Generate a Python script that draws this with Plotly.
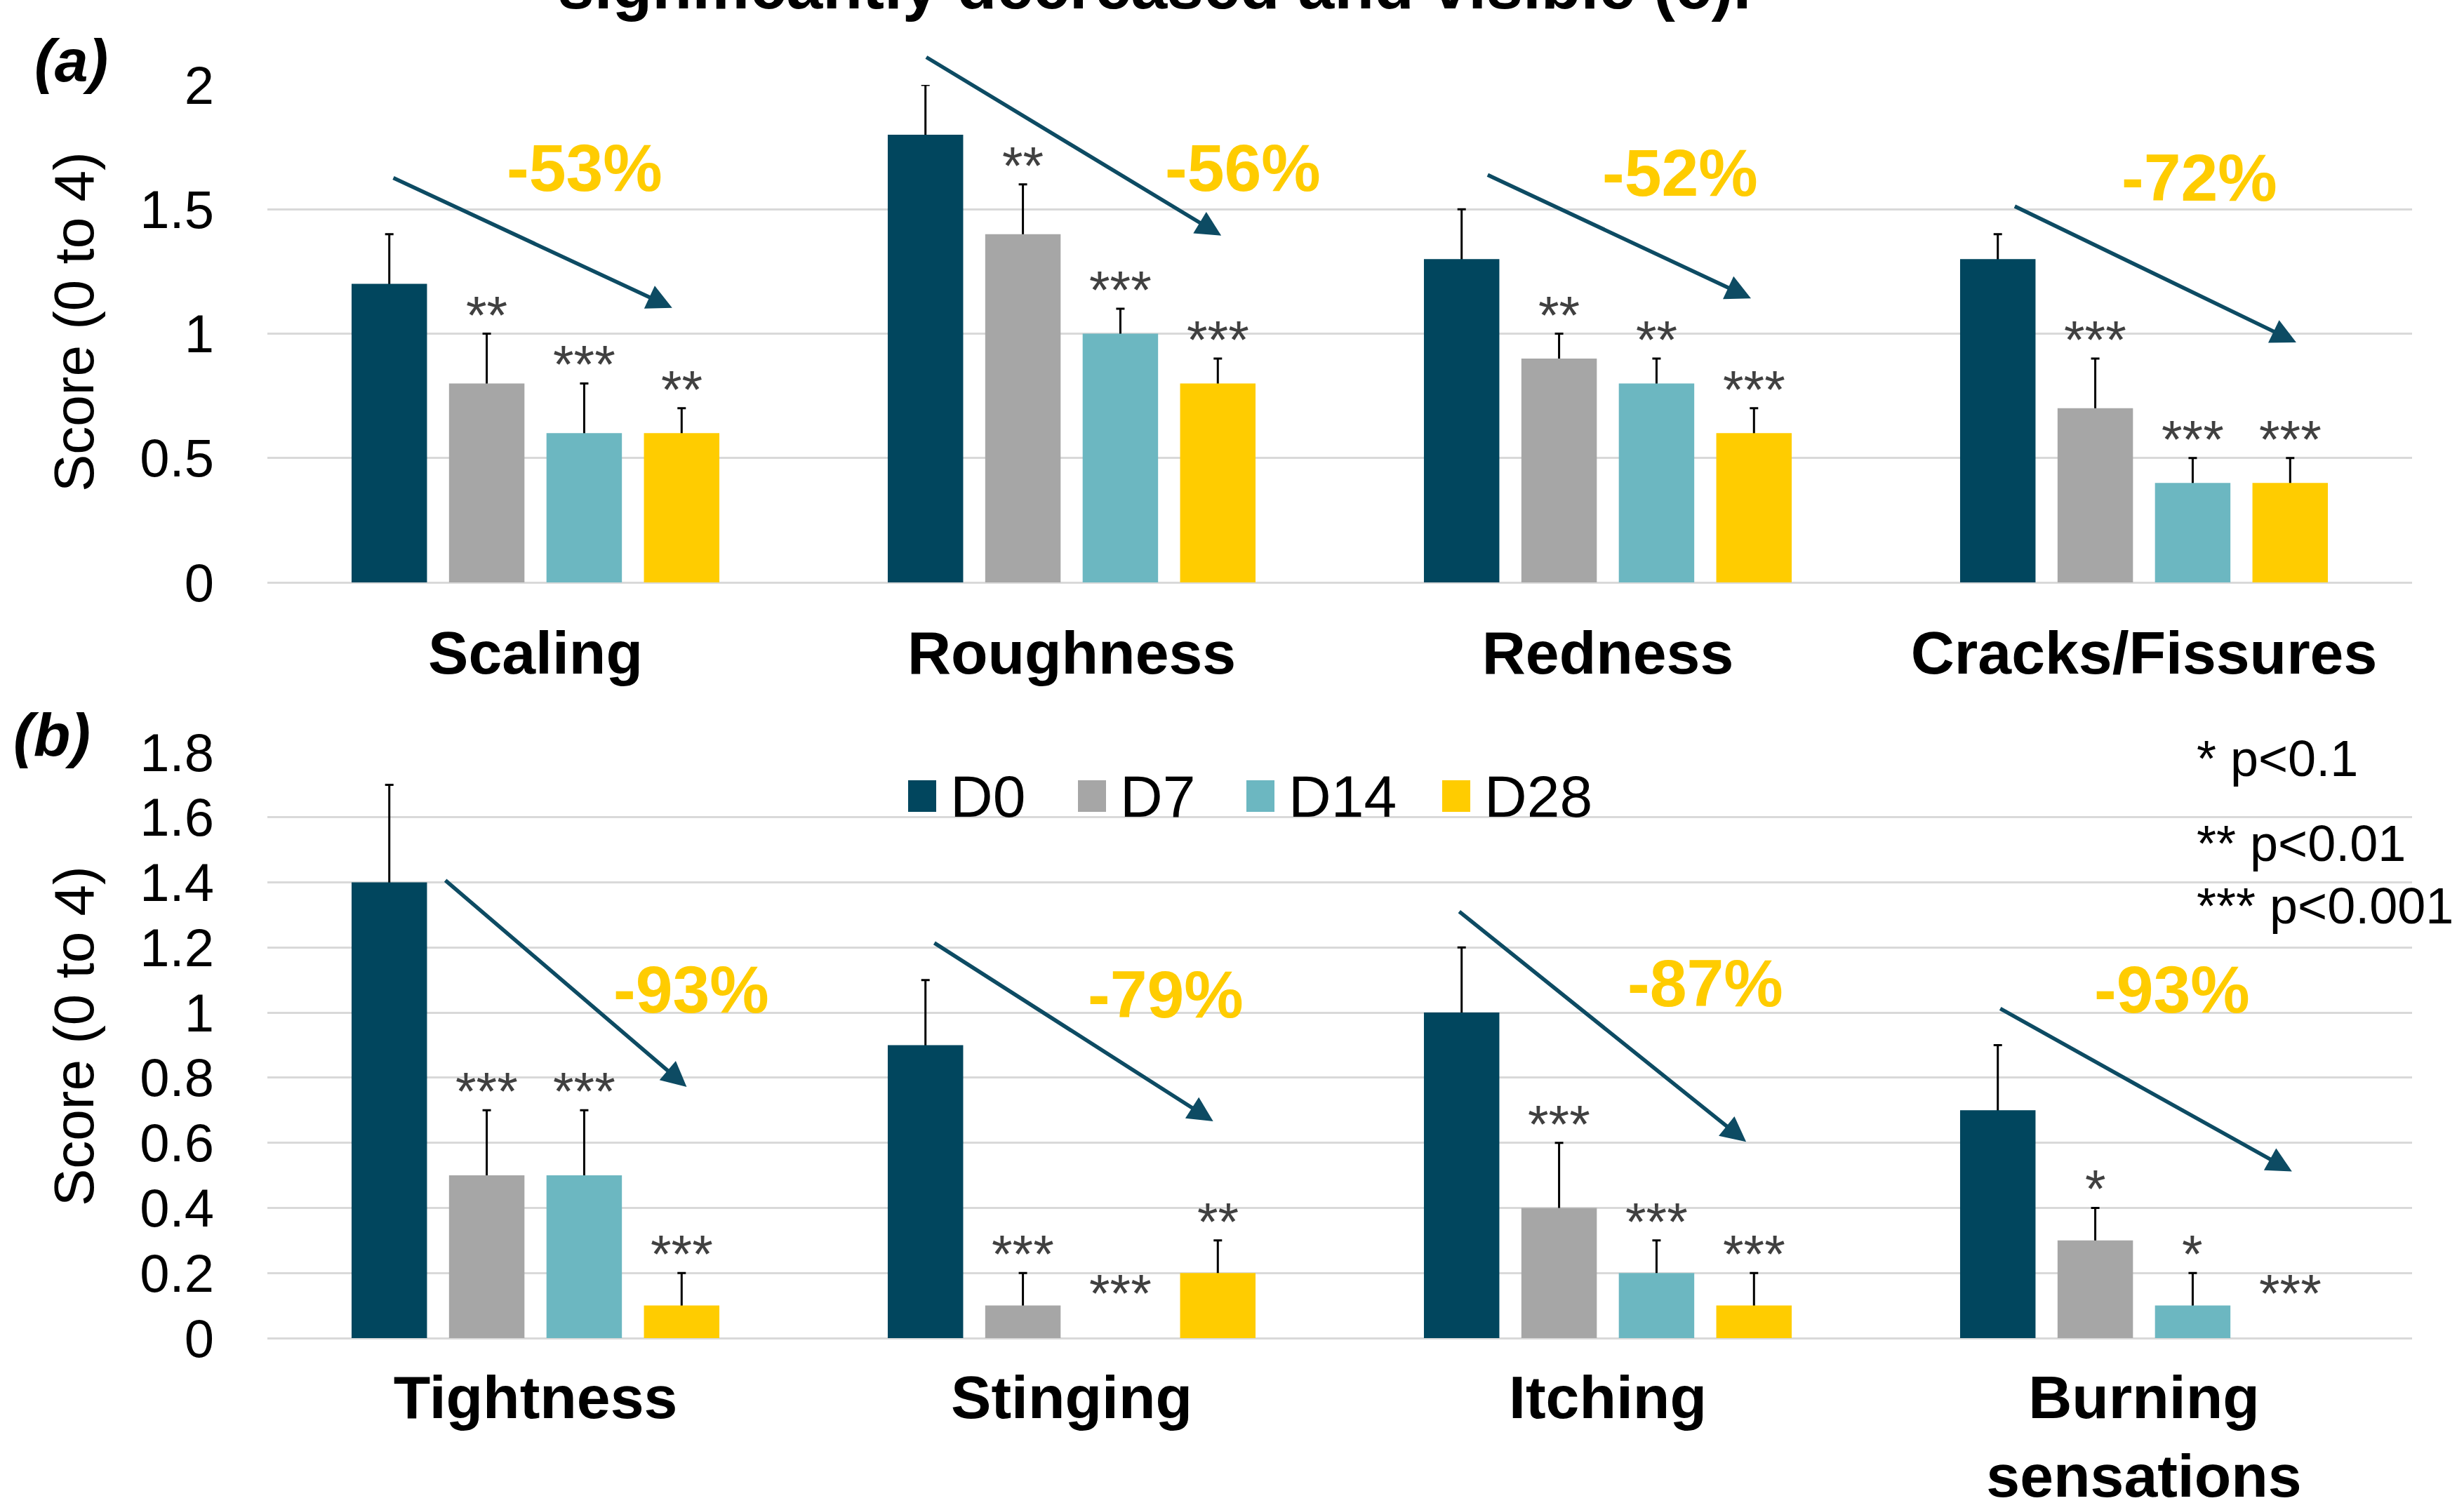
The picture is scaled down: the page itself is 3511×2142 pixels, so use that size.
import plotly.graph_objects as go

W, H = 3511, 2142
FONT = "Liberation Sans, Arial, sans-serif"

# ---------------- data ----------------
series = ["D0", "D7", "D14", "D28"]
colors = ["#01465E", "#A6A6A6", "#6CB7C1", "#FFCC00"]

cats_a = ["Scaling", "Roughness", "Redness", "Cracks/Fissures"]
a_D0 = [1.2, 1.8, 1.3, 1.3]
a_D7 = [0.8, 1.4, 0.9, 0.7]
a_D14 = [0.6, 1.0, 0.8, 0.4]
a_D28 = [0.6, 0.8, 0.6, 0.4]
a_err_D0 = [0.2, 0.2, 0.2, 0.1]
a_err_D7 = [0.2, 0.2, 0.1, 0.2]
a_err_D14 = [0.2, 0.1, 0.1, 0.1]
a_err_D28 = [0.1, 0.1, 0.1, 0.1]
a_sig_D7 = ["**", "**", "**", "***"]
a_sig_D14 = ["***", "***", "**", "***"]
a_sig_D28 = ["**", "***", "***", "***"]
a_pct = ["-53%", "-56%", "-52%", "-72%"]

cats_b = ["Tightness", "Stinging", "Itching", "Burning<br>sensations"]
b_D0 = [1.4, 0.9, 1.0, 0.7]
b_D7 = [0.5, 0.1, 0.4, 0.3]
b_D14 = [0.5, 0.0, 0.2, 0.1]
b_D28 = [0.1, 0.2, 0.1, 0.0]
b_err_D0 = [0.3, 0.2, 0.2, 0.2]
b_err_D7 = [0.2, 0.1, 0.2, 0.1]
b_err_D14 = [0.2, None, 0.1, 0.1]
b_err_D28 = [0.1, 0.1, 0.1, None]
b_sig_D7 = ["***", "***", "***", "*"]
b_sig_D14 = ["***", "***", "***", "*"]
b_sig_D28 = ["***", "**", "***", "***"]
b_pct = ["-93%", "-79%", "-87%", "-93%"]

p_notes = ["* p<0.1", "** p<0.01", "*** p<0.001"]

# ---------------- layout constants ----------------
BARGAP = 0.273
BARGROUPGAP = 0.226
SLOT = (1 - BARGAP) / 4.0

# arrows: (tail_x, tail_y, head_x, head_y) in category / data units
arrows_a = [(-0.267, 1.628, 0.255, 1.104), (0.727, 2.114, 1.279, 1.394),
            (1.774, 1.640, 2.267, 1.142), (2.757, 1.514, 3.284, 0.965)]
arrows_b = [(-0.170, 1.409, 0.282, 0.772), (0.742, 1.216, 1.264, 0.666),
            (1.721, 1.313, 2.258, 0.603), (2.730, 1.014, 3.276, 0.512)]
pct_pos_a = [(0.091, 1.666), (1.320, 1.666), (2.135, 1.647), (3.103, 1.628)]
pct_pos_b = [(0.290, 1.071), (1.176, 1.057), (2.182, 1.091), (3.053, 1.071)]

fig = go.Figure()

vals_a = [a_D0, a_D7, a_D14, a_D28]
errs_a = [a_err_D0, a_err_D7, a_err_D14, a_err_D28]
vals_b = [b_D0, b_D7, b_D14, b_D28]
errs_b = [b_err_D0, b_err_D7, b_err_D14, b_err_D28]

def add_series(cats, vals, errs, xa, ya):
    for i, name in enumerate(series):
        # error bars drawn on a transparent bar first, so the visible bar hides the lower half
        yv = [v if e is not None else None for v, e in zip(vals[i], errs[i])]
        fig.add_trace(go.Bar(
            x=cats, y=yv, name=name, offsetgroup=name,
            marker=dict(color="rgba(0,0,0,0)", line=dict(width=0)),
            error_y=dict(type="data", array=[e if e is not None else 0 for e in errs[i]],
                         symmetric=True, color="black", thickness=3, width=6),
            xaxis=xa, yaxis=ya, showlegend=False, hoverinfo="skip"))
        fig.add_trace(go.Bar(
            x=cats, y=vals[i], name=name, offsetgroup=name,
            marker=dict(color=colors[i], line=dict(width=0)),
            xaxis=xa, yaxis=ya, showlegend=False))

add_series(cats_a, vals_a, errs_a, "x", "y")
add_series(cats_b, vals_b, errs_b, "x2", "y2")

ann = []
shapes = []

def add_stars(vals, errs, sigs_list, xref, yref):
    for s, sigs in enumerate(sigs_list, start=1):
        for k, txt in enumerate(sigs):
            v = vals[s][k]
            e = errs[s][k]
            x = k + (s - 1.5) * SLOT
            if v > 0:
                top = v + (e or 0)
                shift = -17
            else:
                top = 0
                shift = 20
            ann.append(dict(x=x, y=top, xref=xref, yref=yref, text=txt, showarrow=False,
                            xanchor="center", yanchor="bottom", yshift=shift,
                            font=dict(family=FONT, size=76, color="#404040")))

add_stars(vals_a, errs_a, [a_sig_D7, a_sig_D14, a_sig_D28], "x", "y")
add_stars(vals_b, errs_b, [b_sig_D7, b_sig_D14, b_sig_D28], "x2", "y2")

ARROW_COLOR = "#0D4B63"
for arrows, xref, yref in [(arrows_a, "x", "y"), (arrows_b, "x2", "y2")]:
    for (tx, ty, hx, hy) in arrows:
        ann.append(dict(x=hx, y=hy, ax=tx, ay=ty, xref=xref, yref=yref, axref=xref, ayref=yref,
                        showarrow=True, arrowhead=2, arrowsize=1.3, arrowwidth=5.5,
                        arrowcolor=ARROW_COLOR, text=""))

for pcts, pos, xref, yref in [(a_pct, pct_pos_a, "x", "y"), (b_pct, pct_pos_b, "x2", "y2")]:
    for t, (px, py_) in zip(pcts, pos):
        ann.append(dict(x=px, y=py_, xref=xref, yref=yref, text=t, showarrow=False,
                        xanchor="center", yanchor="middle",
                        font=dict(family=FONT, size=95, color="#FFCC00", weight="bold")))

def py(yreal):
    return 1 - yreal / H

def pxr(xreal):
    return xreal / W

# y-axis titles
for yc in [459, 1477]:
    ann.append(dict(x=pxr(105), y=py(yc), xref="paper", yref="paper", text="Score (0 to 4)",
                    textangle=-90, showarrow=False, xanchor="center", yanchor="middle",
                    font=dict(family=FONT, size=80, color="black")))

# panel labels
ann.append(dict(x=pxr(101), y=py(86), xref="paper", yref="paper", text="<i>(a)</i>", showarrow=False,
                xanchor="center", yanchor="middle",
                font=dict(family=FONT, size=86, color="black", weight="bold")))
ann.append(dict(x=pxr(74), y=py(1047), xref="paper", yref="paper", text="<i>(b)</i>", showarrow=False,
                xanchor="center", yanchor="middle",
                font=dict(family=FONT, size=86, color="black", weight="bold")))

# clipped caption at the very top
ann.append(dict(x=pxr(1645), y=py(34), xref="paper", yref="paper",
                text="significantly decreased and visible (c).", showarrow=False,
                xanchor="center", yanchor="bottom",
                font=dict(family=FONT, size=93, color="black", weight="bold")))

# p-value notes
for note, yr in zip(p_notes, [1081, 1202, 1291]):
    ann.append(dict(x=pxr(3128), y=py(yr), xref="paper", yref="paper", text=note, showarrow=False,
                    xanchor="left", yanchor="middle", font=dict(family=FONT, size=72, color="black")))

# custom legend
legend_x = [1294, 1536, 1776, 2055]
for name, col, lx in zip(series, colors, legend_x):
    shapes.append(dict(type="rect", xref="paper", yref="paper", x0=pxr(lx), x1=pxr(lx + 40),
                       y0=py(1157), y1=py(1112), fillcolor=col, line=dict(width=0)))
    ann.append(dict(x=pxr(lx + 58), y=py(1135), xref="paper", yref="paper", text=name,
                    showarrow=False, xanchor="left", yanchor="middle",
                    font=dict(family=FONT, size=84, color="black")))

GRID = "#D9D9D9"
xdom = [pxr(381), pxr(3437)]

xcommon = dict(type="category", range=[-0.5, 3.5], tickangle=0, automargin=False,
               showgrid=False, showline=False, zeroline=False, ticks="",
               tickfont=dict(family=FONT, size=86, color="black", weight="bold"))
ycommon = dict(showgrid=True, gridcolor=GRID, gridwidth=3, zeroline=True, zerolinecolor=GRID,
               zerolinewidth=3, showline=False, ticks="", ticklabelstandoff=75, automargin=False,
               tickfont=dict(family=FONT, size=76, color="black"))

fig.update_layout(
    template="none",
    width=W, height=H, margin=dict(l=0, r=0, t=0, b=0, pad=0, autoexpand=False),
    paper_bgcolor="white", plot_bgcolor="white",
    barmode="group", bargap=BARGAP, bargroupgap=BARGROUPGAP,
    annotations=ann, shapes=shapes, showlegend=False,
    xaxis=dict(domain=xdom, anchor="y", ticklabelstandoff=43, **xcommon),
    yaxis=dict(domain=[py(830), py(121)], anchor="x", range=[0, 2], dtick=0.5, **ycommon),
    xaxis2=dict(domain=xdom, anchor="y2", ticklabelstandoff=27, **xcommon),
    yaxis2=dict(domain=[py(1907), py(1072)], anchor="x2", range=[0, 1.8], dtick=0.2, **ycommon),
)

fig.write_html("out.html", config={"displayModeBar": False},
               post_script="document.body.style.margin='0px';")
